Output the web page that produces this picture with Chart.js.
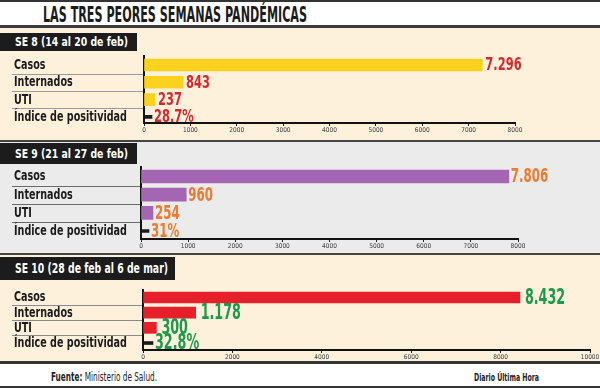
<!DOCTYPE html>
<html><head><meta charset="utf-8">
<script src="https://cdn.jsdelivr.net/npm/chart.js@4.4.0/dist/chart.umd.min.js"></script>
<style>
html,body{margin:0;padding:0;}
body{width:600px;height:388px;position:relative;overflow:hidden;background:#fff;font-family:"DejaVu Sans Condensed","Liberation Sans Narrow",sans-serif;}
.abs{position:absolute;}
.band{position:absolute;left:0;width:600px;}
.title{left:43px;top:3px;font-size:22px;font-weight:bold;color:#1b1b1b;white-space:nowrap;line-height:24px;transform-origin:left center;}
.hdr{position:absolute;left:0;background:#1c1c1c;color:#fff;font-weight:bold;font-size:13px;white-space:nowrap;box-sizing:border-box;padding-left:15px;}
.hdr span{display:inline-block;transform-origin:left center;}
canvas{position:absolute;left:0;}
.foot{position:absolute;white-space:nowrap;color:#222;display:inline-block;transform-origin:left center;}
</style></head><body>
<div class="band" style="top:0;height:2px;background:#333"></div>
<div class="abs title" id="title">LAS TRES PEORES SEMANAS PANDÉMICAS</div>
<div class="band" style="top:25px;height:3px;background:#3a3a3a"></div>
<div class="band" style="top:28px;height:112px;background:#fdf1dc"></div>
<div class="band" style="top:140px;height:2px;background:#444"></div>
<div class="band" style="top:142px;height:111px;background:#ebebeb"></div>
<div class="band" style="top:253px;height:2px;background:#444"></div>
<div class="band" style="top:255px;height:106px;background:#fdf1dc"></div>
<div class="band" style="top:361px;height:3px;background:#333"></div>
<div class="band" style="top:386px;height:2px;background:#333"></div>

<div class="hdr" id="h1" style="top:33px;width:137px;height:18px;line-height:18px;"><span></span></div>
<div class="hdr" id="h2" style="top:143px;width:137px;height:21px;line-height:21px;"><span></span></div>
<div class="hdr" id="h3" style="top:257px;width:175px;height:23px;line-height:23px;font-size:14px;"><span></span></div>

<canvas id="c1" width="600" height="94" style="top:44px"></canvas>
<canvas id="c2" width="600" height="97" style="top:155px"></canvas>
<canvas id="c3" width="600" height="85" style="top:278px"></canvas>

<div class="foot" id="f1" style="left:51px;top:370px;font-size:12px;line-height:14px;"><b>Fuente:</b> Ministerio de Salud.</div>
<div class="foot" id="f2" style="left:474px;top:372px;font-size:10px;line-height:12px;font-weight:bold;">Diario Última Hora</div>

<script>
// ---- data ----
const categories = ['Casos', 'Internados', 'UTI', 'Índice de positividad'];
const weekTitles = ['SE 8 (14 al 20 de feb)', 'SE 9 (21 al 27 de feb)', 'SE 10 (28 de feb al 6 de mar)'];
const se8Values = [7296, 843, 237];
const se8Positividad = 28.7;
const se9Values = [7806, 960, 254];
const se9Positividad = 31;
const se10Values = [8432, 1178, 300];
const se10Positividad = 32.8;
const se8TickLabels = [0, 1000, 2000, 3000, 4000, 5000, 6000, 7000, 8000];
const se9TickLabels = [0, 1000, 2000, 3000, 4000, 5000, 6000, 7000, 8000];
const se10TickLabels = [0, 2000, 4000, 6000, 8000, 10000];

const FONT = '"DejaVu Sans Condensed", "Liberation Sans Narrow", sans-serif';

document.querySelector('#h1 span').textContent = weekTitles[0];
document.querySelector('#h2 span').textContent = weekTitles[1];
document.querySelector('#h3 span').textContent = weekTitles[2];

function fitWidth(el, w) {
  const cur = el.getBoundingClientRect().width;
  if (cur > 0) el.style.transform = 'scaleX(' + (w / cur) + ')';
}
const t = document.getElementById('title');
t.style.display = 'inline-block';
fitWidth(t, 264);
fitWidth(document.querySelector('#h1 span'), 113);
fitWidth(document.querySelector('#h2 span'), 113);
fitWidth(document.querySelector('#h3 span'), 153);
fitWidth(document.getElementById('f1'), 106);
fitWidth(document.getElementById('f2'), 65);

const fmtNum = v => String(v).replace(/\B(?=(\d{3})+(?!\d))/g, '.');
const fmtPct = v => String(v) + '%';

function drawNarrow(ctx, txt, x, y, sx) {
  ctx.save();
  ctx.translate(x, y);
  ctx.scale(sx, 1);
  ctx.fillText(txt, 0, 0);
  ctx.restore();
}

const valueLabels = {
  id: 'valueLabels',
  afterDatasetsDraw(chart, args, o) {
    const ctx = chart.ctx;
    ctx.save();
    ctx.font = 'bold ' + o.size + 'px ' + FONT;
    ctx.fillStyle = o.color;
    ctx.textBaseline = 'middle';
    ctx.textAlign = 'left';
    chart.data.datasets.forEach((ds, di) => {
      chart.getDatasetMeta(di).data.forEach((bar, i) => {
        const raw = ds.data[i];
        const txt = ds.pct ? fmtPct(raw.x) : fmtNum(raw.x);
        drawNarrow(ctx, txt, bar.x + (ds.pct ? o.gapPct : o.gap), bar.y + o.dy, o.sx);
      });
    });
    ctx.restore();
  }
};

const categoryAxis = {
  id: 'categoryAxis',
  afterDraw(chart, args, o) {
    const ctx = chart.ctx;
    const y = chart.scales.y;
    ctx.save();
    ctx.strokeStyle = o.sepColor;
    ctx.lineWidth = 1;
    for (let i = 0; i < categories.length - 1; i++) {
      const py = Math.round(y.getPixelForValue(i + 0.5)) + 0.5;
      ctx.beginPath();
      ctx.moveTo(12, py);
      ctx.lineTo(chart.chartArea.left - 1, py);
      ctx.stroke();
    }
    ctx.font = 'bold ' + o.size + 'px ' + FONT;
    ctx.fillStyle = '#1a1a1a';
    ctx.textBaseline = 'middle';
    ctx.textAlign = 'left';
    y.ticks.forEach(tk => {
      drawNarrow(ctx, categories[tk.value], o.x, y.getPixelForValue(tk.value) + 0.5, o.sx);
    });
    ctx.restore();
  }
};

function makeChart(id, values, pos, ticks, s) {
  const main = values.map((v, i) => ({x: v, y: i}));
  new Chart(document.getElementById(id), {
    type: 'bar',
    data: {
      datasets: [
        {data: main, stack: 'all', backgroundColor: s.barColor, barThickness: s.bar, borderWidth: 0},
        {data: [{x: pos, y: categories.length - 1}], stack: 'all', pct: true, backgroundColor: '#1a1a1a', barThickness: 3, minBarLength: s.dash, borderWidth: 0}
      ]
    },
    options: {
      indexAxis: 'y',
      responsive: false,
      animation: false,
      devicePixelRatio: 1,
      layout: {padding: s.padding},
      plugins: {
        legend: {display: false},
        tooltip: {enabled: false},
        valueLabels: {size: s.labelSize, sx: s.labelSx, color: s.labelColor, gap: s.gap, gapPct: 2, dy: 1},
        categoryAxis: {sepColor: s.sepColor, size: 13.5, sx: 0.79, x: 14}
      },
      scales: {
        x: {
          type: 'linear', position: 'bottom', min: 0, max: ticks[ticks.length - 1],
          afterBuildTicks: sc => { sc.ticks = ticks.map(v => ({value: v})); },
          afterFit: sc => { sc.height = s.xHeight; },
          ticks: {font: {family: FONT, size: 6.5}, color: '#3a3a3a', padding: 0, autoSkip: false, maxRotation: 0, callback: v => String(v)},
          grid: {display: true, drawOnChartArea: false, drawTicks: true, tickLength: 3, color: '#222', lineWidth: 1},
          border: {display: true, color: '#111', width: 2}
        },
        y: {
          type: 'linear', reverse: true, offset: false, min: -0.5, max: s.yMax,
          afterBuildTicks: sc => { sc.ticks = categories.map((c, i) => ({value: i})); },
          afterFit: sc => { sc.width = s.yWidth; },
          ticks: {display: false},
          grid: {display: false, offset: false},
          border: {display: true, color: '#111', width: 2}
        }
      }
    },
    plugins: [valueLabels, categoryAxis]
  });
}

makeChart('c1', se8Values, se8Positividad, se8TickLabels, {
  barColor: '#fbd31f', bar: 12, dash: 8, labelSize: 17, labelSx: 0.75, labelColor: '#d42a2f', sepColor: '#9a9a9a', gap: 3,
  padding: {top: 12.3, left: 14, right: 85, bottom: 0}, yWidth: 130, xHeight: 15, yMax: 3.35
});
makeChart('c2', se9Values, se9Positividad, se9TickLabels, {
  barColor: '#a466b3', bar: 13, dash: 8, labelSize: 19, labelSx: 0.69, labelColor: '#ee7a2f', sepColor: '#6a6a6a', gap: 2,
  padding: {top: 12.4, left: 14, right: 82, bottom: 0}, yWidth: 127, xHeight: 13, yMax: 3.44
});
makeChart('c3', se10Values, se10Positividad, se10TickLabels, {
  barColor: '#e5202b', bar: 11, dash: 10, labelSize: 20.5, labelSx: 0.69, labelColor: '#1c9a4b', sepColor: '#8a8a8a', gap: 5,
  padding: {top: 11.9, left: 14, right: 10, bottom: 0}, yWidth: 129, xHeight: 13, yMax: 3.46
});
</script>
</body></html>
